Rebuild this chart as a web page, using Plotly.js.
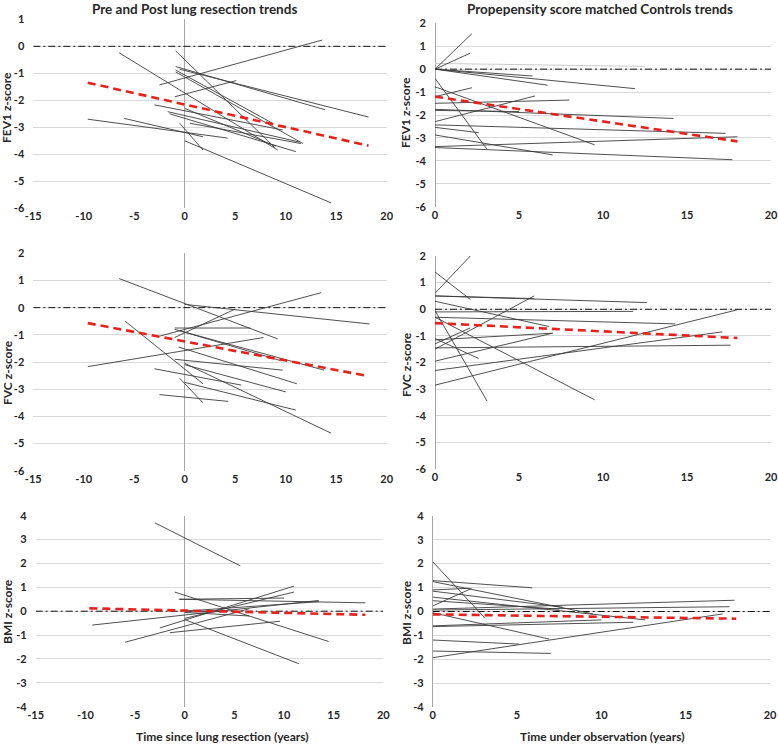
<!DOCTYPE html>
<html>
<head>
<meta charset="utf-8">
<script src="https://cdn.plot.ly/plotly-3.0.1.min.js"></script>
<style>
  body { margin: 0; background: #fff; }
  #chart { width: 778px; height: 744px; }
</style>
</head>
<body>
<div id="chart"></div>
<script>
// every segment is [xStart, yStart, xEnd, yEnd] (years, z-score)
const lungFev1 = [
    [-2.5, -1.43, 13.6, 0.23],
    [-6.5, -0.24, 9.2, -3.84],
    [-0.9, -0.17, 8.9, -3.75],
    [-0.9, -0.88, 8.7, -2.85],
    [-0.9, -0.75, 13.9, -2.35],
    [-0.5, -0.85, 18.2, -2.62],
    [-1.0, -1.87, 5.1, -1.27],
    [-0.9, -0.95, 11.7, -3.6],
    [-3.0, -2.17, 9.7, -3.1],
    [-1.7, -2.42, 11.4, -3.55],
    [-1.5, -2.5, 11.0, -3.9],
    [-9.6, -2.7, 4.25, -3.4],
    [-6.0, -2.67, 1.8, -3.35],
    [-0.5, -2.85, 1.8, -3.84],
    [0, -3.5, 14.5, -5.8],
    [0, -2.3, 9.0, -3.7],
    [0.5, -2.85, 11.5, -3.6]
];
const lungFev1Trend = [-9.6, -1.35, 18.2, -3.68];

const ctrlFev1 = [
    [0, 0, 2.2, 1.55],
    [0, 0, 2.1, 0.7],
    [0, 0, 5.8, -0.3],
    [0, 0, 6.7, -0.7],
    [0, 0, 11.9, -0.85],
    [0, -0.4, 3.1, -3.5],
    [0, -0.77, 9.5, -3.3],
    [0, -1.2, 2.2, -0.81],
    [0, -2.29, 5.95, -1.17],
    [0, -1.49, 8.0, -1.35],
    [0, -1.75, 14.2, -2.15],
    [0, -1.8, 5.0, -1.85],
    [0, -2.43, 17.3, -2.8],
    [0, -2.54, 2.6, -2.77],
    [0, -2.87, 7.0, -3.74],
    [0, -3.38, 18.0, -2.95],
    [0, -3.42, 17.7, -3.95]
];
// faint grey record just above the zero line
const ctrlFev1Faint = [
    [0, 0.25, 12.5, 0.12]
];
const ctrlFev1Trend = [0, -1.2, 18, -3.15];

const lungFvc = [
    [-6.5, 1.07, 9.2, -1.15],
    [0, 0.12, 18.3, -0.6],
    [-2.5, -1.05, 13.5, 0.55],
    [-1, -1.1, 5, -0.05],
    [-1, -0.75, 6.5, -0.75],
    [-1, -0.8, 13.8, -2.3],
    [-0.5, -0.85, 9.5, -1.95],
    [-9.6, -2.17, 7.8, -1.1],
    [-5.9, -0.5, 1.8, -2.8],
    [-1, -1.9, 9.7, -2.3],
    [-0.6, -1.45, 11.1, -2.8],
    [-3, -2.25, 5.6, -2.85],
    [0, -2.1, 10, -3.1],
    [0, -2.05, 14.5, -4.62],
    [-0.5, -2.6, 1.8, -3.5],
    [0, -2.75, 11, -3.77],
    [-2.5, -3.2, 4.3, -3.45]
];
const lungFvcTrend = [-9.6, -0.57, 18.2, -2.52];

const ctrlFvc = [
    [0, 0.6, 2.1, 2.0],
    [0, 1.4, 2.1, 0.37],
    [0, 0.5, 12.6, 0.25],
    [0, 0.5, 5.9, 0.4],
    [0, 0.3, 6.8, -0.65],
    [0, -0.1, 11.8, -0.08],
    [0, -0.3, 14.3, -0.55],
    [0, -1.5, 5.9, 0.5],
    [0, -0.05, 3.1, -3.45],
    [0, -0.3, 9.5, -3.4],
    [0, -1.1, 2.6, -1.85],
    [0, -1.15, 7, -0.9],
    [0, -1.3, 2.1, -0.7],
    [0, -1.45, 17.6, -1.35],
    [0, -1.95, 7, -0.9],
    [0, -2.3, 17.1, -0.85],
    [0, -2.85, 18, -0.02]
];
const ctrlFvcTrend = [0, -0.52, 18, -1.08];

const lungBmi = [
    [-3, 3.7, 5.6, 1.9],
    [-9.3, -0.58, 13.5, 0.45],
    [-6, -1.3, 6.5, 0.1],
    [-1, 0.8, 14.5, -1.27],
    [-0.6, 0.5, 18.2, 0.35],
    [-2.5, -0.7, 11, 1.05],
    [-1.5, -0.9, 9.6, -0.42],
    [0, -0.35, 11.5, -2.2],
    [0, -0.05, 6.5, -0.2],
    [0, -0.3, 11, 0.8],
    [0, 0, 13.5, 0.4],
    [-0.5, 0.5, 10, 0.55]
];
const lungBmiTrend = [-9.6, 0.12, 18.2, -0.15];

const ctrlBmi = [
    [0, 2.08, 3.1, -0.28],
    [0, 1.29, 5.9, 0.99],
    [0, 1.25, 9.5, -0.1],
    [0, 0.9, 2.2, 0.97],
    [0, 0.23, 2.3, 0.96],
    [0, 0.85, 7.7, 0.18],
    [0, 0.6, 12.6, -0.35],
    [0, 0.1, 17.9, 0.47],
    [0, 0.06, 17.6, 0.2],
    [0, -0.05, 6.9, -1.15],
    [0, -0.63, 11.9, -0.45],
    [0, -0.6, 10, -0.35],
    [0, -1.19, 5.1, -1.36],
    [0, -1.65, 7, -1.75],
    [0, -1.93, 17.2, -0.1],
    [0, 0.45, 7.5, 0.1]
];
const ctrlBmiTrend = [0, -0.12, 18, -0.3];

const lungXRange = [-15, 20];
const ctrlXRange = [0, 20];
const lungXTicks = [-15, -10, -5, 0, 5, 10, 15, 20];
const ctrlXTicks = [0, 5, 10, 15, 20];

const FONT = 'Lato, "Open Sans", sans-serif';

// turn a list of segments into one line trace, split with nulls
function segmentTrace(segs, xa, ya, color) {
    let x = [], y = [];
    segs.forEach(s => {
        x.push(s[0], s[2], null);
        y.push(s[1], s[3], null);
    });
    return {
        x: x, y: y, xaxis: xa, yaxis: ya,
        type: 'scatter', mode: 'lines', hoverinfo: 'skip',
        line: {color: color || '#3c3c3c', width: 0.9}
    };
}

function trendTrace(t, xa, ya) {
    return {
        x: [t[0], t[2]], y: [t[1], t[3]], xaxis: xa, yaxis: ya,
        type: 'scatter', mode: 'lines', hoverinfo: 'skip',
        line: {color: '#e8211d', width: 2.6, dash: '8px,5px'}
    };
}

function zeroTrace(range, xa, ya) {
    return {
        x: range, y: [0, 0], xaxis: xa, yaxis: ya,
        type: 'scatter', mode: 'lines', hoverinfo: 'skip',
        line: {color: '#111', width: 1, dash: '7px,3px,2px,3px'}
    };
}

const panels = [
    {segs: lungFev1, trend: lungFev1Trend, xr: lungXRange},
    {segs: ctrlFev1, trend: ctrlFev1Trend, xr: ctrlXRange, faint: ctrlFev1Faint},
    {segs: lungFvc, trend: lungFvcTrend, xr: lungXRange},
    {segs: ctrlFvc, trend: ctrlFvcTrend, xr: ctrlXRange},
    {segs: lungBmi, trend: lungBmiTrend, xr: lungXRange},
    {segs: ctrlBmi, trend: ctrlBmiTrend, xr: ctrlXRange}
];

let traces = [];
panels.forEach((p, i) => {
    let n = i === 0 ? '' : String(i + 1);
    if (p.faint) traces.push(segmentTrace(p.faint, 'x' + n, 'y' + n, '#c4c4c4'));
    traces.push(zeroTrace(p.xr, 'x' + n, 'y' + n));
    traces.push(segmentTrace(p.segs, 'x' + n, 'y' + n));
    traces.push(trendTrace(p.trend, 'x' + n, 'y' + n));
});

// plain hyphen minus like the original, not the typographic one
function tickText(vals) {
    return vals.map(v => String(v));
}

function xAxis(range, ticks, domain, anchor) {
    return {
        domain: domain, range: range, anchor: anchor,
        tickmode: 'array', tickvals: ticks, ticktext: tickText(ticks),
        showgrid: false, showline: false, ticks: '',
        zeroline: true, zerolinecolor: '#a6a6a6', zerolinewidth: 1,
        tickfont: {family: FONT, size: 11, color: '#262626', weight: 'bold'},
        fixedrange: true
    };
}

function yAxis(lo, hi, domain, anchor) {
    let ticks = [];
    for (let v = hi; v >= lo; v--) ticks.push(v);
    return {
        domain: domain, range: [lo, hi], anchor: anchor,
        tickmode: 'array', tickvals: ticks, ticktext: tickText(ticks),
        showgrid: true, gridcolor: '#d9d9d9', gridwidth: 1,
        showline: false, ticks: '', zeroline: false,
        ticklabelstandoff: 8,
        tickfont: {family: FONT, size: 11, color: '#262626', weight: 'bold'},
        fixedrange: true
    };
}

const W = 778, H = 744;
const px = v => v / W;
const py = v => 1 - v / H;

let layout = {
    width: W, height: H,
    margin: {l: 0, r: 0, t: 0, b: 0},
    showlegend: false,
    paper_bgcolor: '#fff', plot_bgcolor: '#fff',
    xaxis: xAxis(lungXRange, lungXTicks, [px(33.3), px(386.7)], 'y'),
    yaxis: yAxis(-6, 1, [py(208.3), py(19.3)], 'x'),
    xaxis2: xAxis(ctrlXRange, ctrlXTicks, [px(435), px(771)], 'y2'),
    yaxis2: yAxis(-6, 2, [py(206.7), py(23.3)], 'x2'),
    xaxis3: xAxis(lungXRange, lungXTicks, [px(33.3), px(386.7)], 'y3'),
    yaxis3: yAxis(-6, 2, [py(470.7), py(253.3)], 'x3'),
    xaxis4: xAxis(ctrlXRange, ctrlXTicks, [px(435), px(771)], 'y4'),
    yaxis4: yAxis(-6, 2, [py(469), py(256)], 'x4'),
    xaxis5: xAxis(lungXRange, lungXTicks, [px(35.7), px(383.3)], 'y5'),
    yaxis5: yAxis(-4, 4, [py(706.7), py(515.7)], 'x5'),
    xaxis6: xAxis(ctrlXRange, ctrlXTicks, [px(432.7), px(770)], 'y6'),
    yaxis6: yAxis(-4, 4, [py(707.3), py(515.7)], 'x6'),
    annotations: []
};

function label(text, x, y, size, angle) {
    return {
        text: text, x: px(x), y: py(y), xref: 'paper', yref: 'paper',
        showarrow: false, textangle: angle || 0,
        xanchor: 'center', yanchor: 'middle',
        font: {family: FONT, size: size, color: '#262626', weight: 'bold'}
    };
}

layout.annotations.push(
    label('Pre and Post lung resection trends', 195, 9, 13.5),
    label('Propepensity score matched Controls trends', 600, 9, 13.5),
    label('FEV1 z-score', 7, 108, 12, -90),
    label('FEV1 z-score', 406, 113, 12, -90),
    label('FVC z-score', 7, 373, 12, -90),
    label('FVC z-score', 406, 365, 12, -90),
    label('BMI z-score', 7, 612, 12, -90),
    label('BMI z-score', 406, 613, 12, -90),
    label('Time since lung resection (years)', 222, 736, 12),
    label('Time under observation (years)', 602, 736, 12)
);

Plotly.newPlot('chart', traces, layout, {displayModeBar: false, staticPlot: true});
</script>
</body>
</html>
